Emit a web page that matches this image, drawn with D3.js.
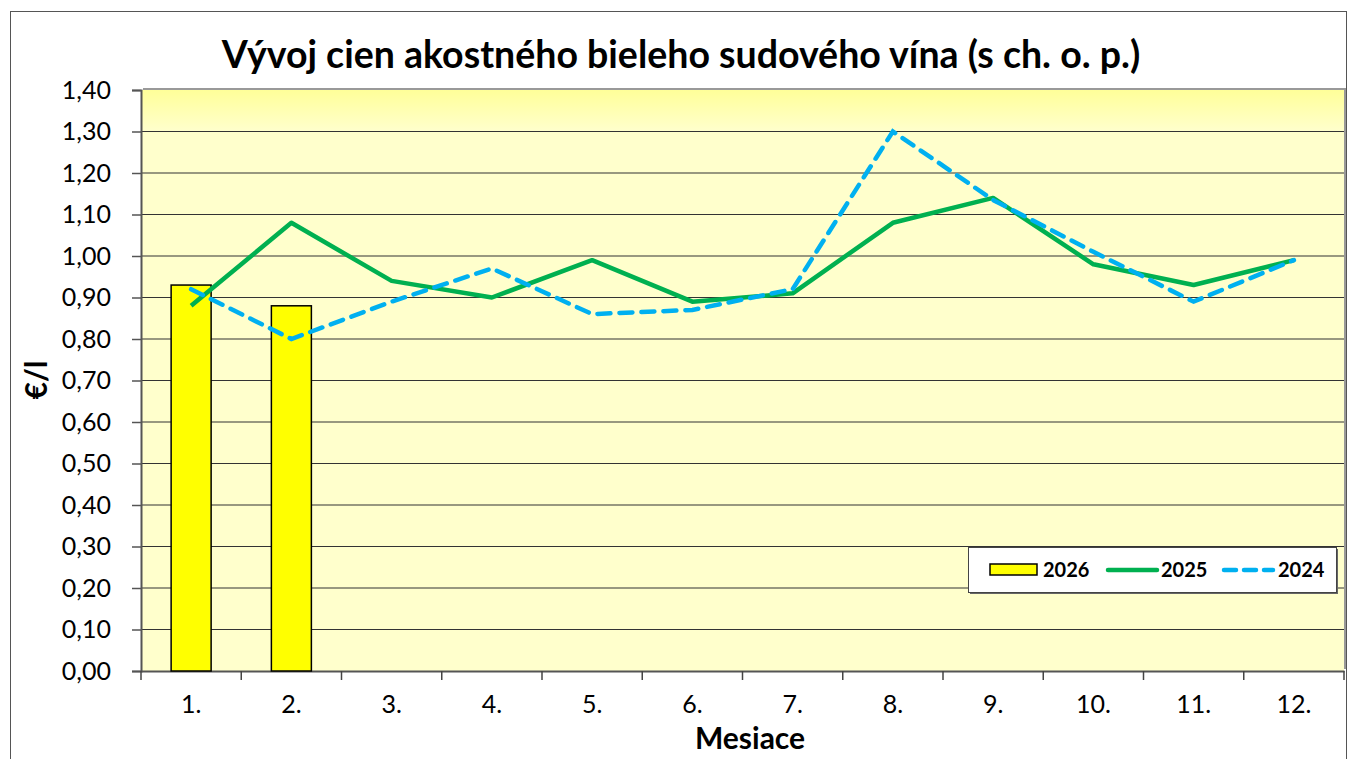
<!DOCTYPE html>
<html>
<head>
<meta charset="utf-8">
<script src="https://cdn.jsdelivr.net/npm/d3@7"></script>
<style>
  body { margin: 0; background: #fff; }
  svg text { font-family: Lato, "Open Sans", sans-serif; fill: #000; }
</style>
</head>
<body>
<svg id="chart" width="1348" height="759"></svg>
<script>
var months = ["1.", "2.", "3.", "4.", "5.", "6.", "7.", "8.", "9.", "10.", "11.", "12."];
var v2026 = [0.93, 0.88];
var v2025 = [0.88, 1.08, 0.94, 0.90, 0.99, 0.89, 0.91, 1.08, 1.14, 0.98, 0.93, 0.99];
var v2024 = [0.92, 0.80, 0.89, 0.97, 0.86, 0.87, 0.92, 1.30, 1.135, 1.01, 0.89, 0.99];
var yTicks = [0, 0.1, 0.2, 0.3, 0.4, 0.5, 0.6, 0.7, 0.8, 0.9, 1.0, 1.1, 1.2, 1.3, 1.4];

var svg = d3.select("#chart");
var plot = { left: 141, top: 90, right: 1344, bottom: 671 };

var x = d3.scaleBand()
    .domain(months)
    .range([plot.left, plot.right]);

var y = d3.scaleLinear()
    .domain([0, 1.4])
    .range([plot.bottom, plot.top]);

var fmt = function (d) {
    return d3.format(".2f")(d).replace(".", ",");
};

// outer frame
svg.append("rect")
    .attr("x", 10.5).attr("y", 11.5)
    .attr("width", 1336).attr("height", 760)
    .attr("fill", "none")
    .attr("stroke", "#555")
    .attr("stroke-width", 1);

// plot background
var defs = svg.append("defs");
var grad = defs.append("linearGradient")
    .attr("id", "bg").attr("x1", 0).attr("y1", 0).attr("x2", 0).attr("y2", 1);
grad.append("stop").attr("offset", 0).attr("stop-color", "#ffff99");
grad.append("stop").attr("offset", 0.07).attr("stop-color", "#ffffcc");
grad.append("stop").attr("offset", 1).attr("stop-color", "#ffffcc");

// shadow of plot area
svg.append("rect")
    .attr("x", plot.left + 2).attr("y", plot.top - 2)
    .attr("width", plot.right - plot.left).attr("height", plot.bottom - plot.top)
    .attr("fill", "#999");

svg.append("rect")
    .attr("x", plot.left).attr("y", plot.top)
    .attr("width", plot.right - plot.left).attr("height", plot.bottom - plot.top)
    .attr("fill", "url(#bg)");

// gridlines
svg.append("g")
    .selectAll("line")
    .data(yTicks.slice(1, -1))
    .enter().append("line")
    .attr("x1", plot.left).attr("x2", plot.right)
    .attr("y1", function (d) { return y(d); })
    .attr("y2", function (d) { return y(d); })
    .attr("stroke", "#333")
    .attr("stroke-width", 1.2);

// y axis
var yAxis = svg.append("g")
    .attr("transform", "translate(" + plot.left + ",0)")
    .call(d3.axisLeft(y).tickValues(yTicks).tickFormat(fmt).tickSize(9).tickPadding(21));
yAxis.select(".domain").attr("stroke", "#555").attr("stroke-width", 2);
yAxis.selectAll(".tick line").attr("stroke", "#555").attr("stroke-width", 1.5);
yAxis.selectAll("text").style("font-size", "25px").attr("fill", "#000");

// x axis
var xAxis = svg.append("g")
    .attr("transform", "translate(0," + plot.bottom + ")")
    .call(d3.axisBottom(x).tickSize(0).tickPadding(24));
xAxis.select(".domain").attr("stroke", "#555").attr("stroke-width", 2);
xAxis.selectAll("text").style("font-size", "25px").attr("fill", "#000");

svg.append("g")
    .selectAll("line")
    .data(months.concat(["end"]))
    .enter().append("line")
    .attr("x1", function (d, i) { return plot.left + i * x.step(); })
    .attr("x2", function (d, i) { return plot.left + i * x.step(); })
    .attr("y1", plot.bottom)
    .attr("y2", plot.bottom + 9)
    .attr("stroke", "#444")
    .attr("stroke-width", 1.5);

// bars 2026
var barW = 40;
svg.append("g")
    .selectAll("rect")
    .data(v2026)
    .enter().append("rect")
    .attr("x", function (d, i) { return x(months[i]) + x.bandwidth() / 2 - barW / 2; })
    .attr("y", function (d) { return y(d); })
    .attr("width", barW)
    .attr("height", function (d) { return y(0) - y(d); })
    .attr("fill", "#ffff00")
    .attr("stroke", "#000")
    .attr("stroke-width", 1.5);

var line = d3.line()
    .x(function (d, i) { return x(months[i]) + x.bandwidth() / 2; })
    .y(function (d) { return y(d); });

svg.append("path")
    .datum(v2025)
    .attr("d", line)
    .attr("fill", "none")
    .attr("stroke", "#00b050")
    .attr("stroke-width", 4.5)
    .attr("stroke-linejoin", "round");

svg.append("path")
    .datum(v2024)
    .attr("d", line)
    .attr("fill", "none")
    .attr("stroke", "#00b0f0")
    .attr("stroke-width", 4.5)
    .attr("stroke-dasharray", "13,9")
    .attr("stroke-linecap", "round");

// title
svg.append("text")
    .attr("x", 681).attr("y", 68)
    .attr("text-anchor", "middle")
    .style("font-size", "37.5px")
    .style("font-weight", "bold")
    .text("Vývoj cien akostného bieleho sudového vína (s ch. o. p.)");

// axis titles
svg.append("text")
    .attr("transform", "translate(47,380) rotate(-90)")
    .attr("text-anchor", "middle")
    .style("font-size", "30px")
    .style("font-weight", "bold")
    .text("€/l");

svg.append("text")
    .attr("x", 750).attr("y", 749)
    .attr("text-anchor", "middle")
    .style("font-size", "30px")
    .style("font-weight", "bold")
    .text("Mesiace");

// legend
var lg = svg.append("g").attr("transform", "translate(968,547)");
lg.append("rect").attr("x", 2).attr("y", 2).attr("width", 368).attr("height", 45).attr("fill", "#666");
lg.append("rect").attr("x", 0.5).attr("y", 0.5).attr("width", 368).attr("height", 45)
    .attr("fill", "#fff").attr("stroke", "#444").attr("stroke-width", 1);

lg.append("rect").attr("x", 22).attr("y", 17).attr("width", 47).attr("height", 11)
    .attr("fill", "#ffff00").attr("stroke", "#000").attr("stroke-width", 1.5);
lg.append("line").attr("x1", 140).attr("x2", 189).attr("y1", 23).attr("y2", 23)
    .attr("stroke", "#00b050").attr("stroke-width", 4.5).attr("stroke-linecap", "round");
lg.append("line").attr("x1", 256).attr("x2", 305).attr("y1", 23).attr("y2", 23)
    .attr("stroke", "#00b0f0").attr("stroke-width", 4.5)
    .attr("stroke-dasharray", "12,8").attr("stroke-linecap", "round");

var legendItems = [
    { label: "2026", x: 75 },
    { label: "2025", x: 193 },
    { label: "2024", x: 310 }
];
lg.selectAll("text.lbl")
    .data(legendItems)
    .enter().append("text")
    .attr("class", "lbl")
    .attr("x", function (d) { return d.x; })
    .attr("y", 30)
    .style("font-size", "20px")
    .style("font-weight", "bold")
    .text(function (d) { return d.label; });
</script>
</body>
</html>
